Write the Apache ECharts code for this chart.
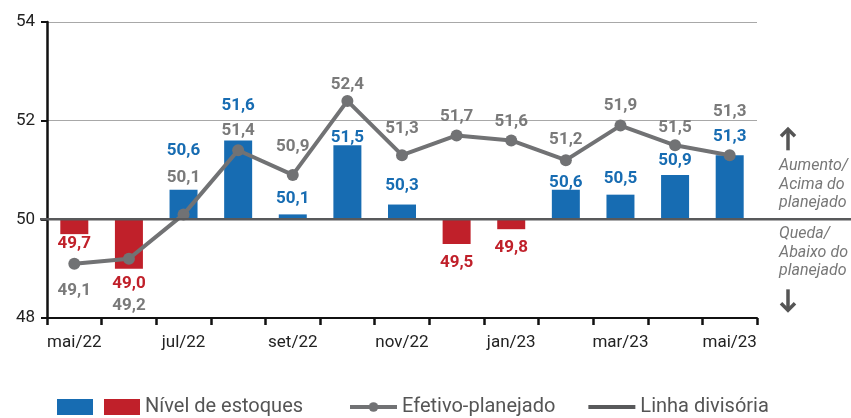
<!DOCTYPE html>
<html>
<head>
<meta charset="utf-8">
<script src="https://cdn.jsdelivr.net/npm/echarts@6/dist/echarts.min.js"></script>
<style>
  html, body { margin: 0; padding: 0; background: #fff; }
  #chart { width: 851px; height: 418px; }
</style>
</head>
<body>
<div id="chart"></div>
<script>
// ---- data ----
const categories = ['mai/22','jun/22','jul/22','ago/22','set/22','out/22','nov/22','dez/22','jan/23','fev/23','mar/23','abr/23','mai/23'];
const stockLevel = [49.7, 49.0, 50.6, 51.6, 50.1, 51.5, 50.3, 49.5, 49.8, 50.6, 50.5, 50.9, 51.3];
const effectiveVsPlanned = [49.1, 49.2, 50.1, 51.4, 50.9, 52.4, 51.3, 51.7, 51.6, 51.2, 51.9, 51.5, 51.3];
const yTicks = [48, 50, 52, 54];
const dividingValue = 50;
const seriesNames = ['Nível de estoques', 'Efetivo-planejado', 'Linha divisória'];
const noteAbove = ['Aumento/', 'Acima do', 'planejado'];
const noteBelow = ['Queda/', 'Abaixo do', 'planejado'];

// ---- styles (label placement offsets, px) ----
const barLabelDy = [10, 15, -39, -35, -16, -8, -19, 19, 19, -7, -16, -14, -18];
const lineLabelDy = [27, 47, -37, -20, -28, -16, -26, -19, -19, -20, -20, -18, -43];
const BLUE = '#176cb2';
const RED = '#c0202a';
const LINE_GRAY = '#717274';
const LABEL_GRAY = '#7a7a7a';
const DIV_GRAY = '#58595b';
const FONT = 'Roboto, "Noto Sans", sans-serif';

const fmt = v => v.toFixed(1).replace('.', ',');

const chart = echarts.init(document.getElementById('chart'), null, { renderer: 'canvas' });

const option = {
  animation: false,
  backgroundColor: '#fff',
  textStyle: { fontFamily: FONT },
  grid: { left: 47, right: 94, top: 22, bottom: 100, containLabel: false },
  xAxis: {
    type: 'category',
    data: categories,
    boundaryGap: true,
    axisLine: { show: true, lineStyle: { color: '#111', width: 2 } },
    axisTick: { show: true, interval: 0, length: 7, lineStyle: { color: '#111', width: 2.5 } },
    axisLabel: { interval: 1, color: '#222', fontSize: 17, margin: 16, fontFamily: FONT }
  },
  yAxis: {
    type: 'value',
    min: yTicks[0],
    max: yTicks[yTicks.length - 1],
    interval: yTicks[1] - yTicks[0],
    axisLine: { show: true, lineStyle: { color: '#111', width: 2.5 } },
    axisTick: { show: true, length: 6, lineStyle: { color: '#111', width: 2 } },
    axisLabel: { color: '#222', fontSize: 17, margin: 12, fontFamily: FONT },
    splitLine: { show: true, lineStyle: { color: '#a8a8a8', width: 1 } }
  },
  legend: [
    {
      left: 52, top: 392,
      itemWidth: 36, itemHeight: 16, itemGap: 11,
      icon: 'rect',
      data: ['pos', seriesNames[0]],
      formatter: n => (n === 'pos' ? '' : n),
      textStyle: { color: '#555', fontSize: 20, fontFamily: FONT }
    },
    {
      left: 343, top: 392,
      itemWidth: 47, itemHeight: 12, itemGap: 33,
      data: [
        { name: seriesNames[1], lineStyle: { width: 4 } },
        { name: seriesNames[2], icon: 'path://M0,0 L47,0 L47,4 L0,4 Z' }
      ],
      textStyle: { color: '#555', fontSize: 20, fontFamily: FONT }
    }
  ],
  series: [
    { name: 'pos', type: 'bar', data: [], itemStyle: { color: BLUE } },
    {
      name: seriesNames[0],
      type: 'custom',
      z: 1,
      itemStyle: { color: RED },
      encode: { x: 0, y: 1 },
      data: stockLevel.map((v, i) => [i, v]),
      renderItem: (params, api) => {
        const i = api.value(0);
        const v = api.value(1);
        const base = api.coord([i, dividingValue]);
        const top = api.coord([i, v]);
        const w = 28;
        const color = v >= dividingValue ? BLUE : RED;
        return {
          type: 'group',
          children: [
            {
              type: 'rect',
              shape: { x: base[0] - w / 2, y: Math.min(base[1], top[1]), width: w, height: Math.abs(top[1] - base[1]) },
              style: { fill: color }
            },
            {
              type: 'text',
              x: top[0],
              y: top[1] + barLabelDy[params.dataIndex],
              z2: 10,
              style: { text: fmt(v), fill: color, font: 'bold 17px ' + FONT, align: 'center', verticalAlign: 'middle' }
            }
          ]
        };
      }
    },
    {
      name: seriesNames[1],
      type: 'line',
      z: 3,
      data: effectiveVsPlanned.map((v, i) => ({ value: v, label: { offset: [0, lineLabelDy[i]] } })),
      symbol: 'circle',
      symbolSize: 12,
      lineStyle: { color: LINE_GRAY, width: 4 },
      itemStyle: { color: LINE_GRAY },
      label: {
        show: true,
        position: 'inside',
        formatter: p => fmt(p.value),
        color: LABEL_GRAY,
        fontWeight: 'bold',
        fontSize: 17,
        fontFamily: FONT
      }
    },
    {
      name: seriesNames[2],
      type: 'line',
      data: [],
      symbol: 'none',
      lineStyle: { color: DIV_GRAY, width: 4 },
      itemStyle: { color: DIV_GRAY }
    }
  ]
};

chart.setOption(option);

const y50 = chart.convertToPixel({ yAxisIndex: 0 }, dividingValue);
const noteFont = 'italic 16px ' + FONT;
const arrowStyle = { stroke: '#555', lineWidth: 3.5, fill: 'none', lineCap: 'butt', lineJoin: 'miter' };
const ax = 788;
const upTop = y50 - 91, upBot = y50 - 69;
const dnTop = y50 + 70, dnBot = y50 + 92;
const graphics = [
  {
    type: 'line', z: 50,
    shape: { x1: 40, y1: y50, x2: 851, y2: y50 },
    style: { stroke: DIV_GRAY, lineWidth: 2.5 }
  },
  { type: 'line', z: 50, shape: { x1: ax, y1: upTop + 2, x2: ax, y2: upBot }, style: arrowStyle },
  { type: 'polyline', z: 50, shape: { points: [[ax - 7, upTop + 8], [ax, upTop + 1], [ax + 7, upTop + 8]] }, style: arrowStyle },
  { type: 'line', z: 50, shape: { x1: ax, y1: dnTop, x2: ax, y2: dnBot - 2 }, style: arrowStyle },
  { type: 'polyline', z: 50, shape: { points: [[ax - 7, dnBot - 8], [ax, dnBot - 1], [ax + 7, dnBot - 8]] }, style: arrowStyle }
];
noteAbove.forEach((t, k) => graphics.push({
  type: 'text', x: 779, y: y50 - 53 + k * 18.5, z: 50,
  style: { text: t, font: noteFont, fill: '#777', align: 'left', verticalAlign: 'middle' }
}));
noteBelow.forEach((t, k) => graphics.push({
  type: 'text', x: 779, y: y50 + 15 + k * 18.5, z: 50,
  style: { text: t, font: noteFont, fill: '#777', align: 'left', verticalAlign: 'middle' }
}));
chart.setOption({ graphic: graphics });
</script>
</body>
</html>
